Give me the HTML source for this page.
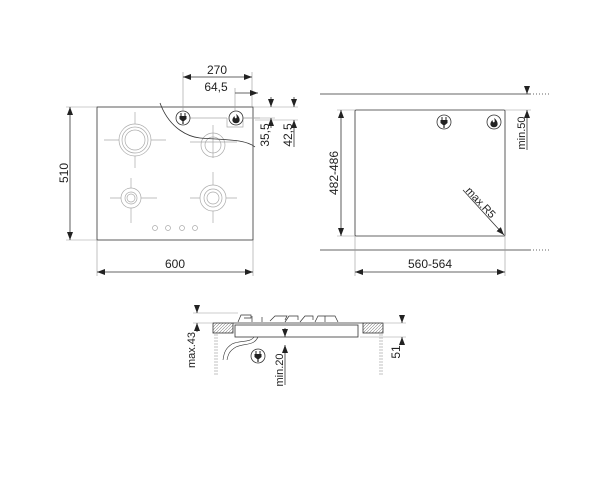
<!DOCTYPE html>
<html><head><style>body{margin:0;background:#fff}svg{display:block}</style></head><body>
<svg width="600" height="480" viewBox="0 0 600 480" xmlns="http://www.w3.org/2000/svg" font-family="Liberation Sans, sans-serif" fill="none">
<defs>
<marker id="a" markerWidth="8" markerHeight="6" refX="8" refY="3" orient="auto-start-reverse" markerUnits="userSpaceOnUse"><path d="M0,0L8,3L0,6z" fill="#222"/></marker>
<pattern id="h" width="3" height="3" patternUnits="userSpaceOnUse"><path d="M0,3L3,0" stroke="#888" stroke-width="0.6"/></pattern>
<g id="plug"><path d="M-2,-5 V-2 M2,-5 V-2" stroke="#222" stroke-width="1"/><path d="M-3.5,-2 H3.5 V1 L1,3 H-1 L-3.5,1 Z" fill="#222"/><path d="M0,3 V6" stroke="#222" stroke-width="1.2"/></g>
<path id="fl" d="M0,-5 c3,2 4,5 3.5,7 c-1,3 -6,3 -7,0 c-0.5,-2 1,-4 2,-5 c0,2 1,3 2,2 c0.5,-1 0,-3 -0.5,-4 z" fill="#222"/>
</defs>
<g stroke="#333" stroke-width="0.8">
<rect x="97" y="107" width="156" height="133" fill="#fff"/>
<g stroke="#aaa" stroke-width="0.7">
<line x1="135" y1="112" x2="135" y2="168"/><line x1="104" y1="140" x2="166" y2="140"/>
<circle cx="135" cy="140" r="16" fill="#fff"/><circle cx="135" cy="140" r="13"/><circle cx="135" cy="140" r="10"/>
<line x1="213" y1="125" x2="213" y2="158"/><line x1="190" y1="142" x2="237" y2="142"/>
<circle cx="213" cy="145" r="12"/><circle cx="213" cy="145" r="8"/>
<line x1="131" y1="178" x2="131" y2="223"/><line x1="110" y1="198" x2="157" y2="198"/>
<circle cx="131" cy="198" r="10" fill="#fff"/><circle cx="131" cy="198" r="6"/><circle cx="131" cy="198" r="4"/>
<line x1="213" y1="172" x2="213" y2="223"/><line x1="190" y1="198" x2="237" y2="198"/>
<circle cx="213" cy="198" r="13" fill="#fff"/><circle cx="213" cy="198" r="9"/><circle cx="213" cy="198" r="6"/>
<circle cx="155" cy="228" r="2.5"/><circle cx="168" cy="228" r="2.5"/><circle cx="182" cy="228" r="2.5"/><circle cx="195" cy="228" r="2.5"/>
</g>
<path d="M160,103 C170,130 190,137 200,138 C225,140 245,139 255,147" stroke="#333"/>
<g stroke="#aaa" stroke-width="0.7"><path d="M190,118 H227 M243,118 H260 M227,118 V127 H243 V118"/></g>
<circle cx="183" cy="118" r="7" fill="#fff"/><circle cx="236" cy="118" r="7" fill="#fff"/>
<g stroke="#999" stroke-width="0.6"><line x1="183" y1="72" x2="183" y2="111"/><line x1="252" y1="72" x2="252" y2="107"/><line x1="235" y1="88" x2="235" y2="111"/>
<line x1="253" y1="107" x2="298" y2="107"/><line x1="243" y1="118" x2="275" y2="118"/><line x1="255" y1="120" x2="298" y2="120"/>
<line x1="66" y1="107" x2="97" y2="107"/><line x1="66" y1="240" x2="97" y2="240"/><line x1="97" y1="240" x2="97" y2="276"/><line x1="253" y1="240" x2="253" y2="276"/></g>
<line x1="183" y1="77" x2="252" y2="77" marker-start="url(#a)" marker-end="url(#a)"/>
<line x1="235" y1="93" x2="258" y2="93" marker-end="url(#a)"/>
<line x1="271" y1="97" x2="271" y2="107" marker-end="url(#a)"/><line x1="271" y1="128" x2="271" y2="118" marker-end="url(#a)"/>
<line x1="294" y1="97" x2="294" y2="107" marker-end="url(#a)"/><line x1="294" y1="147" x2="294" y2="120" marker-end="url(#a)"/>
<line x1="70" y1="107" x2="70" y2="240" marker-start="url(#a)" marker-end="url(#a)"/>
<line x1="97" y1="272" x2="253" y2="272" marker-start="url(#a)" marker-end="url(#a)"/>
<line x1="320" y1="94" x2="530" y2="94"/><line x1="530" y1="94" x2="550" y2="94" stroke-dasharray="1,2"/>
<line x1="320" y1="250" x2="530" y2="250"/><line x1="530" y1="250" x2="550" y2="250" stroke-dasharray="1,2"/>
<rect x="355" y="110" width="150" height="126" rx="1"/>
<g stroke="#999" stroke-width="0.6"><line x1="337" y1="110" x2="355" y2="110"/><line x1="337" y1="236" x2="355" y2="236"/><line x1="355" y1="236" x2="355" y2="276"/><line x1="505" y1="236" x2="505" y2="276"/><line x1="505" y1="110" x2="531" y2="110"/></g>
<line x1="341" y1="110" x2="341" y2="236" marker-start="url(#a)" marker-end="url(#a)"/>
<line x1="355" y1="272" x2="505" y2="272" marker-start="url(#a)" marker-end="url(#a)"/>
<line x1="527" y1="86" x2="527" y2="94" marker-end="url(#a)"/><line x1="527" y1="150" x2="527" y2="110" marker-end="url(#a)"/>
<line x1="463" y1="190" x2="504" y2="235" marker-end="url(#a)"/>
<circle cx="444" cy="122" r="7"/><circle cx="494" cy="122" r="7"/>
<rect x="213" y="323" width="20" height="10" fill="url(#h)"/><rect x="363" y="323" width="20" height="10" fill="url(#h)"/>
<path d="M233,323 H363"/><rect x="235" y="325" width="123" height="12" fill="#fff"/>
<path d="M238,322 l3,-7 h10 v3 h-7 M252,322 v-6 M262,322 v-5 M270,321 l5,-5 h12 l-2,4 M285,322 l4,-6 h9 v4 M300,322 l5,-6 h8 v4 M315,322 l3,-6 h7 v3 M325,322 v-6 h10 l3,6" stroke-width="0.7"/>
<g stroke="#999" stroke-width="0.6" stroke-dasharray="2,1"><line x1="215" y1="334" x2="215" y2="375"/><line x1="217" y1="334" x2="217" y2="375"/><line x1="380" y1="334" x2="380" y2="375"/><line x1="382" y1="334" x2="382" y2="375"/></g>
<path d="M254,337 C250,343 240,340 232,344 C226,348 224,352 223,360 M258,337 C254,346 245,343 236,347 C229,351 228,355 227,360" stroke-width="0.6"/>
<circle cx="258" cy="356" r="7"/>
<g stroke="#999" stroke-width="0.6"><line x1="193" y1="313" x2="238" y2="313"/><line x1="193" y1="323" x2="213" y2="323"/><line x1="383" y1="323" x2="406" y2="323"/><line x1="360" y1="337" x2="406" y2="337"/></g>
<line x1="197" y1="306" x2="197" y2="313" marker-end="url(#a)"/><line x1="197" y1="332" x2="197" y2="323" marker-end="url(#a)"/>
<line x1="402" y1="315" x2="402" y2="323" marker-end="url(#a)"/><line x1="402" y1="345" x2="402" y2="337" marker-end="url(#a)"/>
<line x1="285" y1="328" x2="285" y2="337" marker-end="url(#a)"/><line x1="285" y1="385" x2="285" y2="345" marker-end="url(#a)"/>
</g>
<use href="#plug" x="183" y="118"/><use href="#plug" x="444" y="122"/><use href="#plug" x="258" y="356"/>
<use href="#fl" x="236" y="119"/><use href="#fl" x="494" y="123"/>
<g fill="#222" font-size="12">
<text x="217" y="74" text-anchor="middle">270</text>
<text x="216" y="91" text-anchor="middle">64,5</text>
<text transform="translate(269,135) rotate(-90)" text-anchor="middle">35,5</text>
<text transform="translate(292,135) rotate(-90)" text-anchor="middle">42,5</text>
<text transform="translate(68,173) rotate(-90)" text-anchor="middle">510</text>
<text x="175" y="268" text-anchor="middle">600</text>
<text transform="translate(338,173) rotate(-90)" text-anchor="middle">482-486</text>
<text x="430" y="268" text-anchor="middle">560-564</text>
<text transform="translate(525,133) rotate(-90)" text-anchor="middle" font-size="11">min.50</text>
<text transform="translate(478,205) rotate(47)" text-anchor="middle" font-size="11">max.R5</text>
<text transform="translate(195,350) rotate(-90)" text-anchor="middle" font-size="11">max.43</text>
<text transform="translate(400,352) rotate(-90)" text-anchor="middle">51</text>
<text transform="translate(283,370) rotate(-90)" text-anchor="middle" font-size="11">min.20</text>
</g>
</svg>
</body></html>
